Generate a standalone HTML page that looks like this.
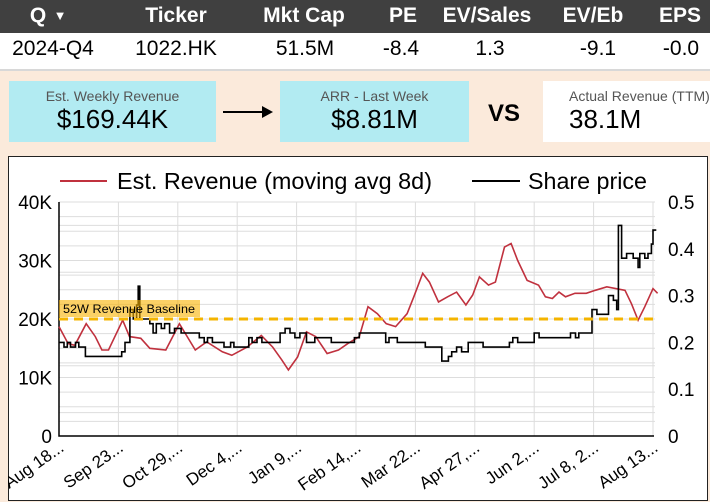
<!DOCTYPE html>
<html><head><meta charset="utf-8"><style>
body{margin:0;width:710px;height:502px;overflow:hidden;background:#fbeadb;font-family:"Liberation Sans Narrow","Liberation Sans",sans-serif;position:relative}
.a{position:absolute}
.hdr{left:0;top:0;width:710px;height:33px;background:#404040;color:#fff;font-weight:bold;font-size:21px}
.row{left:0;top:33px;width:710px;height:36px;background:#fff;border-bottom:2px solid #d8d8d8;font-size:21px;color:#000}
.c{position:absolute;top:4px;transform:translateX(-50%);white-space:nowrap}
.box{background:#b2ebf2;text-align:center}
.lbl{font-size:14px;color:#555;margin-top:7px}
.val{font-size:26px;color:#000;margin-top:0px}
</style></head><body>
<div class="a hdr">
<span class="c" style="left:38px">Q</span><span class="c" style="left:60px;font-size:13px;top:8px">▼</span>
<span class="c" style="left:176px">Ticker</span><span class="c" style="left:304px">Mkt Cap</span><span class="c" style="left:403px">PE</span><span class="c" style="left:487px">EV/Sales</span><span class="c" style="left:593px">EV/Eb</span><span class="c" style="left:680px">EPS</span></div>
<div class="a row">
<span class="c" style="left:53px">2024-Q4</span><span class="c" style="left:176px">1022.HK</span><span class="c" style="left:305px">51.5M</span><span class="c" style="left:401px">-8.4</span><span class="c" style="left:490px">1.3</span><span class="c" style="left:598px">-9.1</span><span class="c" style="left:681px">-0.0</span></div>
<div class="a box" style="left:9px;top:81px;width:207px;height:61px"><div class="lbl">Est. Weekly Revenue</div><div class="val">$169.44K</div></div>
<div class="a" style="left:223px;top:111px;width:40px;height:2px;background:#000"></div>
<div class="a" style="left:262px;top:106px;width:0;height:0;border-left:11px solid #000;border-top:6px solid transparent;border-bottom:6px solid transparent"></div>
<div class="a box" style="left:280px;top:81px;width:189px;height:61px"><div class="lbl">ARR - Last Week</div><div class="val">$8.81M</div></div>
<div class="a" style="left:488px;top:100px;font-size:24px;font-weight:bold">VS</div>
<div class="a" style="left:543px;top:81px;width:167px;height:61px;background:#fff"><div class="lbl" style="margin-left:26px;font-size:14px">Actual Revenue (TTM)</div><div class="val" style="margin-left:26px">38.1M</div></div>
<svg class="a" style="left:8px;top:156px" width="700" height="345">
<rect x="0.5" y="0.5" width="699" height="344" fill="#fff" stroke="#222"/>
<g id="g" transform="translate(-8,-156)"></g>
</svg>
<script>
const revDays=[0,5.5,9.6,16.5,22,26,30,38.6,42.7,49.6,55,64.7,73,82.6,89.5,99,104.7,114,122.6,129.5,135,139,144.6,150,155.6,162.5,169.4,175,182,187.3,193,198.3,204,211,215,220.4,224.5,230,235.5,241,246.6,250.7,254.8,260.3,264.5,270,274,278,283.7,290.6,294.8,299,303,307,312.7,319.6,325,332,343,347,351,355,360,362.8];
const revVals=[18.7,15.8,15.5,19.2,17,14.7,14.7,19.8,17,16.7,15,14.7,19.2,14.7,16.1,14.4,13.8,15.2,17.2,15.2,13,11.3,13.5,17.8,17,14.1,14.7,15.8,17,22.1,20.9,19.2,18.7,20.9,23.8,27.8,26.3,22.9,23.8,24.6,22.4,24.1,27.2,25.8,26.3,32.3,32.9,30,26.6,25.8,23.8,23.5,24.6,23.8,24.4,24.4,24.9,25.5,24.9,22.6,19.8,22.1,25.2,24.4];
const priceDays=[0,3,5,7,10,12,16,36,38,40,42,43,45,47,48,49,52,55,57,59,62,64,67,70,74,80,85,88,90,93,100,104,106,112,115,117,120,123,132,134,137,140,143,146,150,155,165,175,179,182,196,198,200,205,218,222,231,232,236,238,241,244,248,254,257,270,273,275,278,286,288,291,294,300,310,313,315,321,323,326,331,333,336,338,339,341,344,348,351,352,355,357,359,360,362];
const priceVals=[0.2,0.19,0.2,0.19,0.2,0.19,0.17,0.17,0.18,0.2,0.2,0.27,0.25,0.28,0.32,0.25,0.25,0.24,0.22,0.24,0.23,0.24,0.22,0.23,0.22,0.22,0.21,0.2,0.21,0.2,0.19,0.2,0.19,0.19,0.21,0.2,0.21,0.2,0.2,0.22,0.23,0.22,0.21,0.22,0.2,0.21,0.2,0.2,0.21,0.22,0.22,0.2,0.21,0.2,0.2,0.19,0.19,0.16,0.17,0.18,0.19,0.18,0.2,0.2,0.19,0.19,0.2,0.21,0.2,0.2,0.22,0.21,0.21,0.21,0.22,0.21,0.22,0.22,0.27,0.26,0.26,0.3,0.29,0.27,0.45,0.38,0.39,0.38,0.36,0.39,0.38,0.39,0.41,0.44,0.44];
const xLabels=["Aug 18...","Sep 23...","Oct 29,...","Dec 4,...","Jan 9,...","Feb 14,...","Mar 22...","Apr 27,...","Jun 2,...","Jul 8, 2...","Aug 13..."];
const leftTicks=["0","10K","20K","30K","40K"];
const rightTicks=["0","0.1","0.2","0.3","0.4","0.5"];
const baseline=20;
const X0=59,X1=653,Y0=436,Y1=202;
const x=d=>X0+d*(X1-X0)/360;
const yl=v=>Y0-v*(Y0-Y1)/40;
const yr=v=>Y0-v*(Y0-Y1)/0.5;
const NS="http://www.w3.org/2000/svg",g=document.getElementById('g');
function mk(t,a,txt){const e=document.createElementNS(NS,t);for(const k in a)e.setAttribute(k,a[k]);if(txt!=null)e.textContent=txt;g.appendChild(e);return e;}
for(let v=2.5;v<=40;v+=2.5){const l=mk('line',{x1:X0,x2:X1+2,y1:yl(v),y2:yl(v),stroke:'#ddd'});}
for(let v=0.05;v<=0.5;v+=0.1){const l=mk('line',{x1:X0,x2:X1+2,y1:yr(v),y2:yr(v),stroke:'#ddd'});}
xLabels.forEach((s,i)=>{const d=i*36;if(i>0){const l=mk('line',{x1:x(d),x2:x(d),y1:Y1,y2:Y0,stroke:'#ddd'});}
const t=mk('text',{x:x(d)+6,y:Y0+14,'text-anchor':'end','font-size':17,transform:`rotate(-35 ${x(d)+6} ${Y0+14})`},s);});
leftTicks.forEach((s,i)=>{const t=mk('text',{x:52,y:yl(i*10)+7,'text-anchor':'end','font-size':19},s);});
rightTicks.forEach((s,i)=>{const t=mk('text',{x:668,y:yr(i*0.1)+7,'font-size':19},s);});
let ax=mk('path',{d:`M${X0} ${Y1}V${Y0}H${X1+1}`,fill:'none',stroke:'#000','stroke-width':1.5});
let rp=revDays.map((d,i)=>(i?'L':'M')+x(d).toFixed(1)+' '+yl(revVals[i]).toFixed(1)).join('');
let r=mk('path',{d:rp,fill:'none',stroke:'#c0313e','stroke-width':1.6});
let pp='';priceDays.forEach((d,i)=>{const X=x(d).toFixed(1),Y=yr(priceVals[i]).toFixed(1);pp+=i?`H${X}V${Y}`:`M${X} ${Y}`;});
let p=mk('path',{d:pp,fill:'none',stroke:'#000','stroke-width':1.6});
let bl=mk('line',{x1:X0,x2:X1,y1:yl(baseline),y2:yl(baseline),stroke:'#f4b400','stroke-width':3,'stroke-dasharray':'9 6'});
let br=mk('rect',{x:X0,y:yl(baseline)-19,width:141,height:17,fill:'#f9b300','fill-opacity':0.6});
let bt=mk('text',{x:X0+4,y:yl(baseline)-6,'font-size':12,textLength:132,lengthAdjust:'spacingAndGlyphs'},'52W Revenue Baseline');
let l1=mk('line',{x1:60,x2:107,y1:181,y2:181,stroke:'#c0313e','stroke-width':2});
let t1=mk('text',{x:117,y:189,'font-size':23,textLength:315,lengthAdjust:'spacingAndGlyphs'},'Est. Revenue (moving avg 8d)');
let l2=mk('line',{x1:472,x2:520,y1:181,y2:181,stroke:'#000','stroke-width':2});
let t2=mk('text',{x:528,y:189,'font-size':23,textLength:119,lengthAdjust:'spacingAndGlyphs'},'Share price');
</script>
</body></html>
